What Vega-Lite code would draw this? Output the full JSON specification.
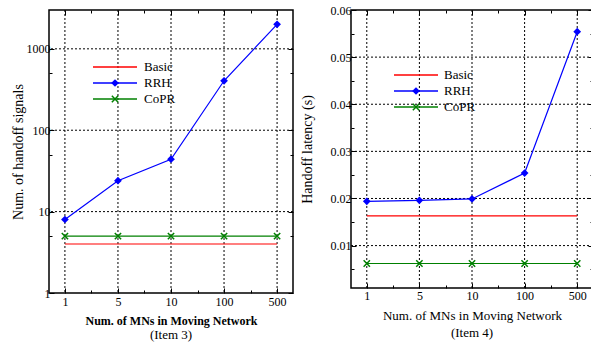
{
  "$schema": "https://vega.github.io/schema/vega-lite/v6.json",
  "padding": {"left": 10, "top": 3, "right": 0, "bottom": 0},
  "background": "white",
  "datasets": {
    "signals": [
      {"mns": "1", "series": "Basic", "v": 4},
      {"mns": "5", "series": "Basic", "v": 4},
      {"mns": "10", "series": "Basic", "v": 4},
      {"mns": "100", "series": "Basic", "v": 4},
      {"mns": "500", "series": "Basic", "v": 4},
      {"mns": "1", "series": "RRH", "v": 8},
      {"mns": "5", "series": "RRH", "v": 24},
      {"mns": "10", "series": "RRH", "v": 44},
      {"mns": "100", "series": "RRH", "v": 405},
      {"mns": "500", "series": "RRH", "v": 2000},
      {"mns": "1", "series": "CoPR", "v": 5},
      {"mns": "5", "series": "CoPR", "v": 5},
      {"mns": "10", "series": "CoPR", "v": 5},
      {"mns": "100", "series": "CoPR", "v": 5},
      {"mns": "500", "series": "CoPR", "v": 5}
    ],
    "latency": [
      {"mns": "1", "series": "Basic", "v": 0.0163},
      {"mns": "5", "series": "Basic", "v": 0.0163},
      {"mns": "10", "series": "Basic", "v": 0.0163},
      {"mns": "100", "series": "Basic", "v": 0.0163},
      {"mns": "500", "series": "Basic", "v": 0.0163},
      {"mns": "1", "series": "RRH", "v": 0.0194},
      {"mns": "5", "series": "RRH", "v": 0.0196},
      {"mns": "10", "series": "RRH", "v": 0.0199},
      {"mns": "100", "series": "RRH", "v": 0.0254},
      {"mns": "500", "series": "RRH", "v": 0.0554},
      {"mns": "1", "series": "CoPR", "v": 0.0062},
      {"mns": "5", "series": "CoPR", "v": 0.0062},
      {"mns": "10", "series": "CoPR", "v": 0.0062},
      {"mns": "100", "series": "CoPR", "v": 0.0062},
      {"mns": "500", "series": "CoPR", "v": 0.0062}
    ],
    "signalsGrid": [{"v": 10}, {"v": 100}, {"v": 1000}],
    "latencyGrid": [{"v": 0.01}, {"v": 0.02}, {"v": 0.03}, {"v": 0.04}, {"v": 0.05}]
  },
  "spacing": 58,
  "bounds": "flush",
  "resolve": {
    "scale": {"color": "independent", "shape": "independent"},
    "legend": {"color": "independent", "shape": "independent"}
  },
  "config": {
    "view": {"stroke": "#000", "strokeWidth": 1.5},
    "font": "Liberation Serif",
    "axis": {
      "labelFont": "Liberation Serif", "labelFontSize": 12, "labelColor": "#000",
      "titleFont": "Liberation Serif", "titleFontSize": 13, "titleColor": "#000", "titleFontWeight": "normal",
      "domain": false, "tickColor": "#000", "tickWidth": 1, "grid": false
    },
    "legend": {"labelFont": "Liberation Serif", "labelFontSize": 13, "labelColor": "#000", "padding": 0, "rowPadding": 0}
  },
  "hconcat": [
    {
      "width": 244,
      "height": 283,
      "title": {"text": "(Item 3)", "orient": "bottom", "font": "Liberation Serif", "fontSize": 13, "fontWeight": "normal", "color": "#000", "offset": 3, "anchor": "middle"},
      "resolve": {"axis": {"x": "independent", "y": "independent"}, "scale": {"shape": "independent"}, "legend": {"shape": "independent"}},
      "layer": [
        {
          "data": {"name": "signals"},
          "transform": [{"filter": "datum.series === 'RRH'"}],
          "mark": {"type": "rule", "color": "#000", "strokeWidth": 1, "strokeDash": [2, 2]},
          "encoding": {
            "x": {"field": "mns", "type": "ordinal", "sort": ["1", "5", "10", "100", "500"], "axis": null}
          }
        },
        {
          "data": {"name": "signalsGrid"},
          "mark": {"type": "rule", "color": "#000", "strokeWidth": 1, "strokeDash": [2, 2]},
          "encoding": {
            "y": {"field": "v", "type": "quantitative", "axis": null}
          }
        },
        {
          "data": {"name": "signals"},
          "mark": {"type": "line", "strokeWidth": 1.2},
          "encoding": {
            "x": {"field": "mns", "type": "ordinal", "sort": ["1", "5", "10", "100", "500"], "scale": {"type": "point", "padding": 0.3},
              "axis": {"orient": "bottom", "title": "Num. of MNs in Moving Network", "titleFontWeight": "bold", "titleFontSize": 12, "titlePadding": 8, "labelAngle": 0, "tickSize": -5, "labelPadding": 8}},
            "y": {"field": "v", "type": "quantitative", "scale": {"type": "log", "domain": [1, 3000], "nice": false},
              "axis": {"orient": "left", "title": "Num. of handoff signals", "titleFontSize": 14, "titlePadding": 1, "format": "d",
                "values": [1, 5, 10, 50, 100, 500, 1000],
                "labelExpr": "indexof([5,50,500], datum.value) >= 0 ? '' : datum.label",
                "tickSize": {"condition": {"test": "indexof([5,50,500], datum.value) >= 0", "value": -3}, "value": -5},
                "labelPadding": 4}},
            "color": {"field": "series", "type": "nominal", "sort": ["Basic", "RRH", "CoPR"], "scale": {"range": ["#ff0000", "#0000ff", "#008000"]},
              "legend": {"orient": "none", "legendX": 43, "legendY": 49, "title": null, "symbolType": "stroke", "symbolSize": 1936, "symbolStrokeWidth": 1.5, "labelOffset": 6, "clipHeight": 16}}
          }
        },
        {
          "data": {"name": "signals"},
          "transform": [{"filter": "datum.series === 'RRH'"}],
          "mark": {"type": "point", "filled": true, "color": "#0000ff", "opacity": 1, "size": 60},
          "encoding": {
            "x": {"field": "mns", "type": "ordinal", "sort": ["1", "5", "10", "100", "500"],
              "axis": {"orient": "top", "labels": false, "title": null, "tickSize": -5}},
            "y": {"field": "v", "type": "quantitative",
              "axis": {"orient": "right", "values": [1, 5, 10, 50, 100, 500, 1000], "labels": false, "title": null,
                "tickSize": {"condition": {"test": "indexof([5,50,500], datum.value) >= 0", "value": -3}, "value": -5}}},
            "shape": {"field": "series", "type": "nominal", "scale": {"domain": ["RRH"], "range": ["diamond"]},
              "legend": {"orient": "none", "legendX": 43, "legendY": 65, "title": null, "symbolSize": 60, "symbolOffset": 16.5, "labelExpr": "''", "clipHeight": 16, "symbolFillColor": "#0000ff", "symbolStrokeColor": "#0000ff", "symbolOpacity": 1}}
          }
        },
        {
          "data": {"name": "signals"},
          "transform": [{"filter": "datum.series === 'CoPR'"}],
          "mark": {"type": "point", "filled": false, "color": "#008000", "opacity": 1, "strokeWidth": 1.5, "size": 40},
          "encoding": {
            "x": {"field": "mns", "type": "ordinal", "sort": ["1", "5", "10", "100", "500"], "axis": null},
            "y": {"field": "v", "type": "quantitative", "axis": null},
            "shape": {"field": "series", "type": "nominal", "scale": {"domain": ["CoPR"], "range": ["M-1,-1L1,1M-1,1L1,-1"]},
              "legend": {"orient": "none", "legendX": 43, "legendY": 81, "title": null, "symbolSize": 40, "symbolOffset": 16.5, "labelExpr": "''", "clipHeight": 16, "symbolStrokeWidth": 1.5, "symbolFillColor": "transparent", "symbolStrokeColor": "#008000", "symbolOpacity": 1}}
          }
        },
        {
          "data": {"name": "signals"},
          "mark": {"type": "point", "opacity": 0},
          "encoding": {
            "x": {"field": "mns", "type": "ordinal", "sort": ["1", "5", "10", "100", "500"],
              "axis": {"orient": "bottom", "values": ["1", "5", "10", "100"], "tickOffset": 26.5, "labels": false, "title": null, "tickSize": -3}},
            "y": {"field": "v", "type": "quantitative", "axis": null}
          }
        },
        {
          "data": {"name": "signals"},
          "mark": {"type": "point", "opacity": 0},
          "encoding": {
            "x": {"field": "mns", "type": "ordinal", "sort": ["1", "5", "10", "100", "500"],
              "axis": {"orient": "top", "values": ["1", "5", "10", "100"], "tickOffset": 26.5, "labels": false, "title": null, "tickSize": -3}},
            "y": {"field": "v", "type": "quantitative", "axis": null}
          }
        }
      ]
    },
    {
      "width": 242,
      "height": 278,
      "title": {"text": "(Item 4)", "orient": "bottom", "font": "Liberation Serif", "fontSize": 13, "fontWeight": "normal", "color": "#000", "offset": 5, "anchor": "middle"},
      "resolve": {"axis": {"x": "independent", "y": "independent"}, "scale": {"shape": "independent"}, "legend": {"shape": "independent"}},
      "layer": [
        {
          "data": {"name": "latency"},
          "transform": [{"filter": "datum.series === 'RRH'"}],
          "mark": {"type": "rule", "color": "#000", "strokeWidth": 1, "strokeDash": [2, 2]},
          "encoding": {
            "x": {"field": "mns", "type": "ordinal", "sort": ["1", "5", "10", "100", "500"], "axis": null}
          }
        },
        {
          "data": {"name": "latencyGrid"},
          "mark": {"type": "rule", "color": "#000", "strokeWidth": 1, "strokeDash": [2, 2]},
          "encoding": {
            "y": {"field": "v", "type": "quantitative", "axis": null}
          }
        },
        {
          "data": {"name": "latency"},
          "mark": {"type": "line", "strokeWidth": 1.2},
          "encoding": {
            "x": {"field": "mns", "type": "ordinal", "sort": ["1", "5", "10", "100", "500"], "scale": {"type": "point", "padding": 0.3},
              "axis": {"orient": "bottom", "title": "Num. of MNs in Moving Network", "titleFontSize": 13, "titlePadding": 8, "labelAngle": 0, "tickSize": -5, "labelPadding": 7}},
            "y": {"field": "v", "type": "quantitative", "scale": {"domain": [0.001, 0.06], "nice": false, "zero": false},
              "axis": {"orient": "left", "title": "Handoff latency (s)", "titleFontSize": 14, "titlePadding": 16, "format": ".2f",
                "values": [0.005, 0.01, 0.015, 0.02, 0.025, 0.03, 0.035, 0.04, 0.045, 0.05, 0.055, 0.06],
                "labelExpr": "round(datum.value * 1000) % 10 !== 0 ? '' : datum.label",
                "tickSize": {"condition": {"test": "round(datum.value * 1000) % 10 !== 0", "value": -3}, "value": -5},
                "labelPadding": 5}},
            "color": {"field": "series", "type": "nominal", "sort": ["Basic", "RRH", "CoPR"], "scale": {"range": ["#ff0000", "#0000ff", "#008000"]},
              "legend": {"orient": "none", "legendX": 42, "legendY": 57, "title": null, "symbolType": "stroke", "symbolSize": 1936, "symbolStrokeWidth": 1.5, "labelOffset": 5, "clipHeight": 16}}
          }
        },
        {
          "data": {"name": "latency"},
          "transform": [{"filter": "datum.series === 'RRH'"}],
          "mark": {"type": "point", "filled": true, "color": "#0000ff", "opacity": 1, "size": 60},
          "encoding": {
            "x": {"field": "mns", "type": "ordinal", "sort": ["1", "5", "10", "100", "500"],
              "axis": {"orient": "top", "labels": false, "title": null, "tickSize": -5}},
            "y": {"field": "v", "type": "quantitative",
              "axis": {"orient": "right", "values": [0.005, 0.01, 0.015, 0.02, 0.025, 0.03, 0.035, 0.04, 0.045, 0.05, 0.055, 0.06], "labels": false, "title": null,
                "tickSize": {"condition": {"test": "round(datum.value * 1000) % 10 !== 0", "value": -3}, "value": -5}}},
            "shape": {"field": "series", "type": "nominal", "scale": {"domain": ["RRH"], "range": ["diamond"]},
              "legend": {"orient": "none", "legendX": 42, "legendY": 73, "title": null, "symbolSize": 60, "symbolOffset": 16.5, "labelExpr": "''", "clipHeight": 16, "symbolFillColor": "#0000ff", "symbolStrokeColor": "#0000ff", "symbolOpacity": 1}}
          }
        },
        {
          "data": {"name": "latency"},
          "transform": [{"filter": "datum.series === 'CoPR'"}],
          "mark": {"type": "point", "filled": false, "color": "#008000", "opacity": 1, "strokeWidth": 1.5, "size": 40},
          "encoding": {
            "x": {"field": "mns", "type": "ordinal", "sort": ["1", "5", "10", "100", "500"], "axis": null},
            "y": {"field": "v", "type": "quantitative", "axis": null},
            "shape": {"field": "series", "type": "nominal", "scale": {"domain": ["CoPR"], "range": ["M-1,-1L1,1M-1,1L1,-1"]},
              "legend": {"orient": "none", "legendX": 42, "legendY": 89, "title": null, "symbolSize": 40, "symbolOffset": 16.5, "labelExpr": "''", "clipHeight": 16, "symbolStrokeWidth": 1.5, "symbolFillColor": "transparent", "symbolStrokeColor": "#008000", "symbolOpacity": 1}}
          }
        },
        {
          "data": {"name": "latency"},
          "mark": {"type": "point", "opacity": 0},
          "encoding": {
            "x": {"field": "mns", "type": "ordinal", "sort": ["1", "5", "10", "100", "500"],
              "axis": {"orient": "bottom", "values": ["1", "5", "10", "100"], "tickOffset": 26.3, "labels": false, "title": null, "tickSize": -3}},
            "y": {"field": "v", "type": "quantitative", "axis": null}
          }
        },
        {
          "data": {"name": "latency"},
          "mark": {"type": "point", "opacity": 0},
          "encoding": {
            "x": {"field": "mns", "type": "ordinal", "sort": ["1", "5", "10", "100", "500"],
              "axis": {"orient": "top", "values": ["1", "5", "10", "100"], "tickOffset": 26.3, "labels": false, "title": null, "tickSize": -3}},
            "y": {"field": "v", "type": "quantitative", "axis": null}
          }
        }
      ]
    }
  ]
}
